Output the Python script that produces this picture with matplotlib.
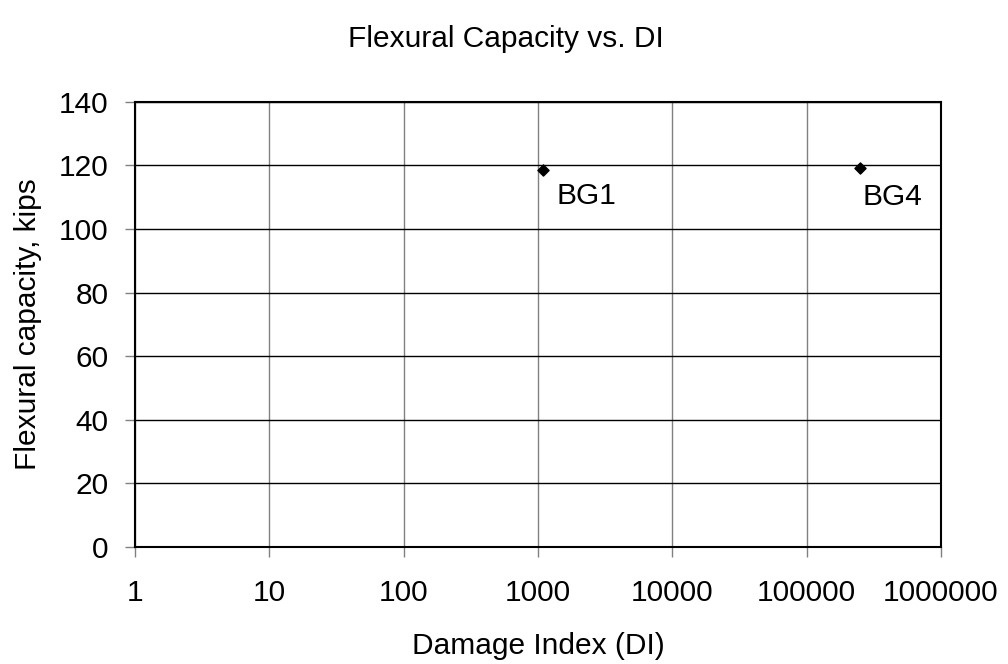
import matplotlib
matplotlib.use("Agg")
import matplotlib.pyplot as plt
from matplotlib.ticker import FixedLocator, FixedFormatter

plt.rcParams['font.family'] = ['Liberation Sans', 'DejaVu Sans']

labels = ["BG1", "BG4"]
di = [1090, 250000]
capacity = [118.6, 119.2]
xticks = [1, 10, 100, 1000, 10000, 100000, 1000000]
xticklabels = ["1", "10", "100", "1000", "10000", "100000", "1000000"]
yticks = [0, 20, 40, 60, 80, 100, 120, 140]
label_offsets = [(9.5, -19), (2, -21)]

fig = plt.figure(figsize=(10.08, 6.64), dpi=100)
ax = fig.add_axes([0.134, 0.176, 0.7995, 0.671])
ax.set_xscale("log")
ax.set_xlim(1, 1000000)
ax.set_ylim(0, 140)
ax.xaxis.set_major_locator(FixedLocator(xticks))
ax.xaxis.set_major_formatter(FixedFormatter(xticklabels))
ax.xaxis.set_minor_locator(FixedLocator([]))
ax.set_yticks(yticks)
ax.grid(axis="x", color="#808080", linewidth=1)
ax.grid(axis="y", color="black", linewidth=1)
ax.set_axisbelow(True)
for s in ax.spines.values():
    s.set_linewidth(1.5)
ax.tick_params(axis="both", direction="out", length=7, width=1, labelsize=21.5, color="#808080")
ax.tick_params(axis="x", pad=16)
ax.tick_params(axis="y", pad=12)

ax.scatter(di, capacity, marker="D", s=32, color="black", zorder=3)
for x, y, t, off in zip(di, capacity, labels, label_offsets):
    ax.annotate(t, (x, y), xytext=off, textcoords="offset points",
                fontsize=21.5, va="center", ha="left")

ax.set_xlabel("Damage Index (DI)", fontsize=21.5, labelpad=18)
ax.set_ylabel("Flexural capacity, kips", fontsize=21.5, labelpad=12)
fig.text(0.502, 0.942, "Flexural Capacity vs. DI", ha="center", va="center", fontsize=21.5)

fig.savefig("out.png", dpi=100)
